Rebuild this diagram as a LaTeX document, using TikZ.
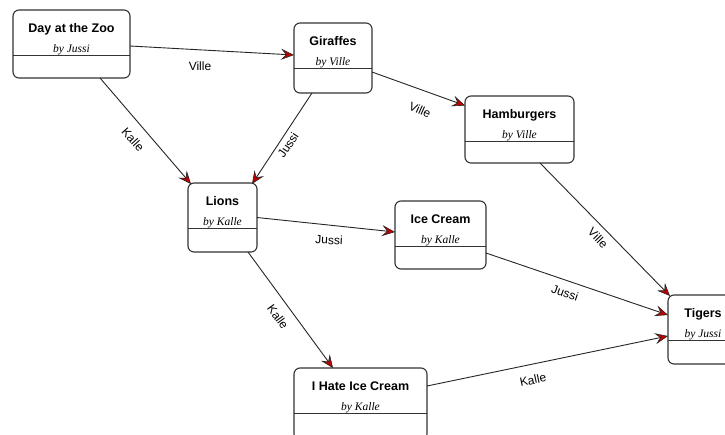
\documentclass[tikz,border=0pt]{standalone}
\usepackage{fontspec}
\setmainfont{Liberation Serif}
\setsansfont{Liberation Sans}
\usetikzlibrary{arrows.meta}

\tikzset{
  box/.style={draw=black!80, line width=1.1pt, rounded corners=6pt, fill=white,
    inner sep=0pt, outer sep=0pt},
  divider/.style={draw=black!80, line width=1pt},
  boxtitle/.style={font=\sffamily\bfseries\fontsize{12.5}{14}\selectfont, anchor=base, inner sep=0pt},
  boxauthor/.style={font=\itshape\fontsize{11.5}{13}\selectfont, anchor=base, inner sep=0pt},
  conn/.style={draw=black!85, line width=0.9pt,
    -{Stealth[length=13pt, width=11pt, inset=5pt, fill=red!75!black, line width=0.6pt]}},
  lbl/.style={font=\sffamily\fontsize{12}{14}\selectfont, inner sep=0pt}
}

% class-style box: name, centre x, top y, width, height, title, author
\newcommand\umlbox[7]{%
  \node[box, minimum width=#4pt, minimum height=#5pt, anchor=north] (#1) at (#2,#3) {};
  \draw[divider] ([yshift=-45pt]#1.north west) -- ([yshift=-45pt]#1.north east);
  \node[boxtitle] (#1-t) at ([yshift=-22pt]#1.north) {#6};
  \node[boxauthor] (#1-a) at ([yshift=-42pt]#1.north) {by #7};
}

\begin{document}
\begin{tikzpicture}[x=1pt,y=-1pt]
\fill[white] (0,0) rectangle (725,434);
\useasboundingbox (0,0) rectangle (725,434);

\umlbox{day}{71.5}{10}{117}{68}{Day at the Zoo}{Jussi}
\umlbox{gir}{333}{23}{78}{70}{Giraffes}{Ville}
\umlbox{ham}{519.5}{96}{109}{67}{Hamburgers}{Ville}
\umlbox{lio}{222.5}{183}{69}{69}{Lions}{Kalle}
\umlbox{ice}{440.5}{201}{91}{68}{Ice Cream}{Kalle}
\umlbox{tig}{703}{295}{70}{69}{Tigers}{Jussi}
\umlbox{iha}{360.5}{368}{133}{72}{I Hate Ice Cream}{Kalle}

% connectors
\draw[conn] ([yshift=-2pt]day.east) -- ([yshift=3pt]gir.west);
\draw[conn] ([xshift=28.5pt]day.south) -- ([xshift=3pt,yshift=-1pt]lio.north west);
\draw[conn] ([xshift=-21pt]gir.south) -- ([xshift=-5pt,yshift=-1pt]lio.north east);
\draw[conn] ([yshift=-14pt]gir.east) -- ([yshift=24pt]ham.west);
\draw[conn] (lio.east) -- ([yshift=3pt]ice.west);
\draw[conn] ([xshift=25.5pt]lio.south) -- ([xshift=-27.5pt]iha.north);
\draw[conn] ([xshift=20.5pt]ham.south) -- ([xshift=2pt,yshift=-1pt]tig.north west);
\draw[conn] ([yshift=-18pt]ice.east) -- ([yshift=14.5pt]tig.west);
\draw[conn] ([yshift=18pt]iha.east) -- ([yshift=-6.5pt]tig.west);

% connector labels
\node[lbl] (l1) at (200,66) {Ville};
\node[lbl, rotate=-48] (l2) at (133,140) {Kalle};
\node[lbl, rotate=56] (l3) at (288,145) {Jussi};
\node[lbl, rotate=-24] (l4) at (420,110) {Ville};
\node[lbl, rotate=-3] (l5) at (329,240) {Jussi};
\node[lbl, rotate=-54] (l6) at (278,317) {Kalle};
\node[lbl, rotate=-46] (l7) at (598,238) {Ville};
\node[lbl, rotate=-19] (l8) at (565,293) {Jussi};
\node[lbl, rotate=12] (l9) at (533,380) {Kalle};
\end{tikzpicture}
\end{document}
